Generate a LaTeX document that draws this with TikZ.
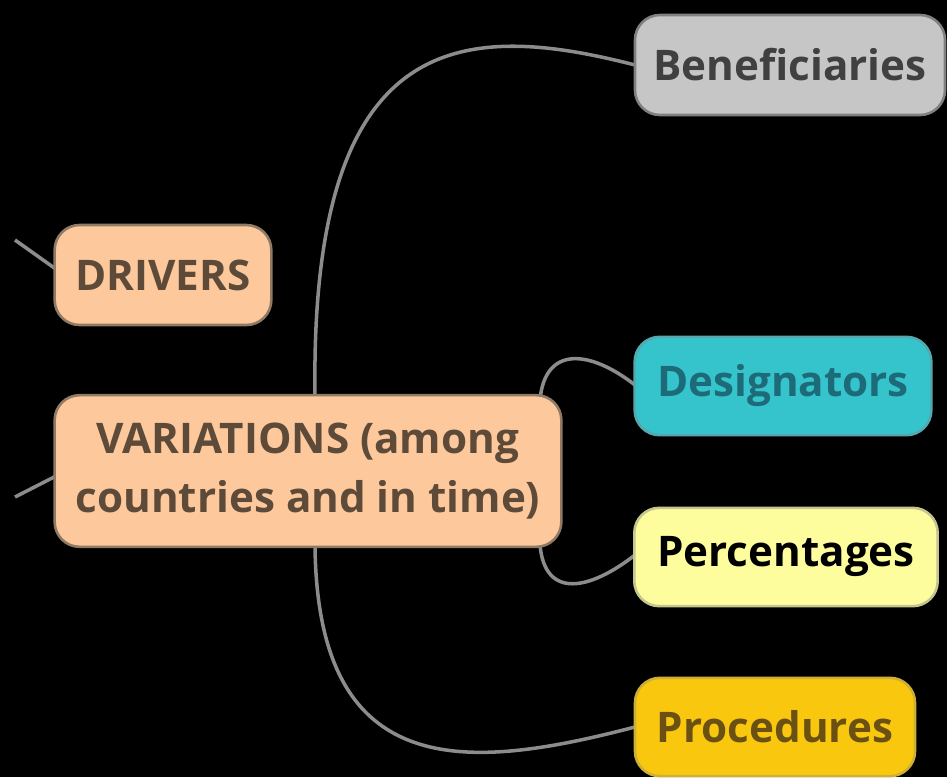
\documentclass[tikz,border=0pt]{standalone}
\usepackage{fontspec}
\setmainfont{Open Sans}
\usepackage{xcolor}
\definecolor{peach}{HTML}{FCC89C}
\definecolor{peachtext}{HTML}{5E4A38}
\definecolor{peachline}{HTML}{8F7A66}
\definecolor{teal}{HTML}{36C4CC}
\definecolor{tealtext}{HTML}{1D6B78}
\definecolor{lemon}{HTML}{FEFD9E}
\definecolor{gold}{HTML}{F9C80E}
\definecolor{goldtext}{HTML}{6A5113}
\definecolor{link}{HTML}{8C8C8C}

\begin{document}
\begin{tikzpicture}[x=0.03cm,y=-0.03cm,
  topic/.style={draw,line width=2.2pt,rounded corners=0.75cm,inner sep=0pt,
    font=\fontsize{36}{50}\selectfont\bfseries,align=center},
  branch/.style={link,line width=3pt}]
 \fill[black] (0,0) rectangle (947,777);
 \useasboundingbox (0,0) rectangle (947,777);

 % connectors first, boxes on top
 \coordinate (v) at (315,470);
 \coordinate (dl) at (15,240);
 \coordinate (vl) at (15,497);
 \draw[branch] (v) -- (315,395) .. controls (310,30) and (460,20) .. (635,65);
 \draw[branch] (v) -- (315,547) .. controls (318,785) and (470,770) .. (635,727);
 \draw[branch] (540,400) .. controls (545,345) and (590,350) .. (635,385);
 \draw[branch] (540,545) .. controls (545,600) and (590,590) .. (635,555);
 \draw[branch] (dl) -- (60,272);
 \draw[branch] (vl) -- (60,474);

 \node[topic,fill=peach,draw=peachline,text=peachtext,minimum width=6.5cm,minimum height=3cm]
   (drivers) at (163,275) {DRIVERS};
 \node[topic,fill=peach,draw=peachline,text=peachtext,minimum width=15.2cm,minimum height=4.55cm]
   (var) at (308,471) {VARIATIONS (among\\countries and in time)};
 \node[topic,fill=gray!45,draw=gray,text=darkgray,minimum width=9.3cm,minimum height=3cm]
   (bene) at (790,65) {Beneficiaries};
 \node[topic,fill=teal,draw=teal!60!gray,text=tealtext,minimum width=8.9cm,minimum height=2.95cm]
   (desig) at (783,386) {Designators};
 \node[topic,fill=lemon,draw=lemon!55!gray,text=black,minimum width=9.1cm,minimum height=2.95cm]
   (perc) at (786,557) {Percentages};
 \node[topic,fill=gold,draw=gold!65!gray,text=goldtext,minimum width=8.4cm,minimum height=2.95cm]
   (proc) at (775,727) {Procedures};
\end{tikzpicture}
\end{document}
